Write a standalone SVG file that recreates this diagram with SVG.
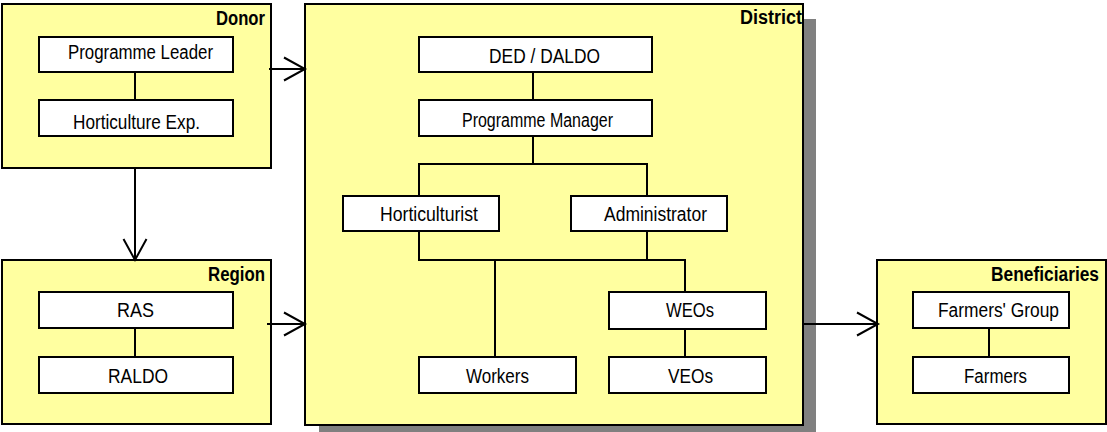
<svg xmlns="http://www.w3.org/2000/svg" width="1107" height="432" viewBox="0 0 1107 432">
  <style>
    .zone { fill: #ffffa0; stroke: #000; stroke-width: 2; }
    .box { fill: #fff; stroke: #000; stroke-width: 2; }
    .shadow { fill: #808080; }
    .link { fill: none; stroke: #000; stroke-width: 2; }
    .lbl { font-family: "Liberation Sans Narrow", "Liberation Sans", Arial, sans-serif; font-size: 20px; fill: #000; }
    .ttl { font-family: "Liberation Sans Narrow", "Liberation Sans", Arial, sans-serif; font-size: 20px; font-weight: bold; fill: #000; }
  </style>
  <defs>
    <marker id="open-arrow" markerUnits="userSpaceOnUse" markerWidth="30" markerHeight="30" viewBox="-25 -15 30 30" refX="0" refY="0" orient="auto">
      <path d="M-21,-11.5 L0,0 L-21,11.5" fill="none" stroke="#000" stroke-width="2"/>
    </marker>
  </defs>

  <rect width="1107" height="432" fill="#fff"/>

  <!-- Donor -->
  <g id="donor">
    <rect class="zone" x="2" y="4" width="269" height="164"/>
    <text class="ttl" x="216" y="25" textLength="49" lengthAdjust="spacingAndGlyphs">Donor</text>
  </g>

  <!-- Region -->
  <g id="region">
    <rect class="zone" x="2" y="260" width="269" height="164"/>
    <text class="ttl" x="208" y="281" textLength="57" lengthAdjust="spacingAndGlyphs">Region</text>
  </g>

  <!-- District, with drop shadow -->
  <g id="district">
    <rect class="shadow" x="319" y="19" width="497" height="413"/>
    <rect class="zone" x="305" y="4" width="498" height="421"/>
    <text class="ttl" x="740" y="24" textLength="62" lengthAdjust="spacingAndGlyphs">District</text>
  </g>

  <!-- Beneficiaries -->
  <g id="beneficiaries">
    <rect class="zone" x="877" y="260" width="229" height="164"/>
    <text class="ttl" x="991" y="281" textLength="108" lengthAdjust="spacingAndGlyphs">Beneficiaries</text>
  </g>

  <!-- Connectors -->
  <g id="connectors">
    <!-- flows between organisations -->
    <line class="link" x1="269" y1="69" x2="305" y2="69" marker-end="url(#open-arrow)"/>
    <line class="link" x1="267" y1="324" x2="305" y2="324" marker-end="url(#open-arrow)"/>
    <line class="link" x1="135" y1="167" x2="135" y2="260" marker-end="url(#open-arrow)"/>
    <line class="link" x1="803" y1="324" x2="878" y2="324" marker-end="url(#open-arrow)"/>

    <!-- reporting lines -->
    <line class="link" x1="135" y1="72" x2="135" y2="100"/>
    <line class="link" x1="135" y1="328" x2="135" y2="357"/>
    <line class="link" x1="533" y1="72" x2="533" y2="100"/>
    <line class="link" x1="533" y1="136" x2="533" y2="164"/>
    <polyline class="link" points="419,196 419,164 647,164 647,196"/>
    <polyline class="link" points="419,231 419,260 685,260 685,292"/>
    <line class="link" x1="647" y1="231" x2="647" y2="260"/>
    <line class="link" x1="495" y1="260" x2="495" y2="357"/>
    <line class="link" x1="685" y1="329" x2="685" y2="357"/>
    <line class="link" x1="989" y1="328" x2="989" y2="357"/>
  </g>

  <!-- Donor staff -->
  <g id="programme-leader">
    <rect class="box" x="39" y="37" width="194" height="35"/>
    <text class="lbl" x="68" y="59" textLength="145" lengthAdjust="spacingAndGlyphs">Programme Leader</text>
  </g>
  <g id="horticulture-exp">
    <rect class="box" x="39" y="100" width="194" height="36"/>
    <text class="lbl" x="73" y="129" textLength="127" lengthAdjust="spacingAndGlyphs">Horticulture Exp.</text>
  </g>

  <!-- Region staff -->
  <g id="ras">
    <rect class="box" x="39" y="292" width="194" height="36"/>
    <text class="lbl" x="117" y="317" textLength="37" lengthAdjust="spacingAndGlyphs">RAS</text>
  </g>
  <g id="raldo">
    <rect class="box" x="39" y="357" width="194" height="36"/>
    <text class="lbl" x="108" y="383" textLength="60" lengthAdjust="spacingAndGlyphs">RALDO</text>
  </g>

  <!-- District staff -->
  <g id="ded-daldo">
    <rect class="box" x="419" y="37" width="233" height="35"/>
    <text class="lbl" x="489" y="63" textLength="111" lengthAdjust="spacingAndGlyphs">DED / DALDO</text>
  </g>
  <g id="programme-manager">
    <rect class="box" x="419" y="100" width="233" height="36"/>
    <text class="lbl" x="462" y="127" textLength="151" lengthAdjust="spacingAndGlyphs">Programme Manager</text>
  </g>
  <g id="horticulturist">
    <rect class="box" x="343" y="196" width="156" height="35"/>
    <text class="lbl" x="380" y="221" textLength="98" lengthAdjust="spacingAndGlyphs">Horticulturist</text>
  </g>
  <g id="administrator">
    <rect class="box" x="571" y="196" width="156" height="35"/>
    <text class="lbl" x="604" y="221" textLength="103" lengthAdjust="spacingAndGlyphs">Administrator</text>
  </g>
  <g id="weos">
    <rect class="box" x="609" y="292" width="157" height="37"/>
    <text class="lbl" x="666" y="317" textLength="48" lengthAdjust="spacingAndGlyphs">WEOs</text>
  </g>
  <g id="veos">
    <rect class="box" x="609" y="357" width="157" height="36"/>
    <text class="lbl" x="668" y="383" textLength="45" lengthAdjust="spacingAndGlyphs">VEOs</text>
  </g>
  <g id="workers">
    <rect class="box" x="419" y="357" width="157" height="36"/>
    <text class="lbl" x="466" y="383" textLength="63" lengthAdjust="spacingAndGlyphs">Workers</text>
  </g>

  <!-- Beneficiaries -->
  <g id="farmers-group">
    <rect class="box" x="913" y="292" width="156" height="36"/>
    <text class="lbl" x="938" y="317" textLength="121" lengthAdjust="spacingAndGlyphs">Farmers' Group</text>
  </g>
  <g id="farmers">
    <rect class="box" x="913" y="357" width="156" height="36"/>
    <text class="lbl" x="964" y="383" textLength="63" lengthAdjust="spacingAndGlyphs">Farmers</text>
  </g>
</svg>
